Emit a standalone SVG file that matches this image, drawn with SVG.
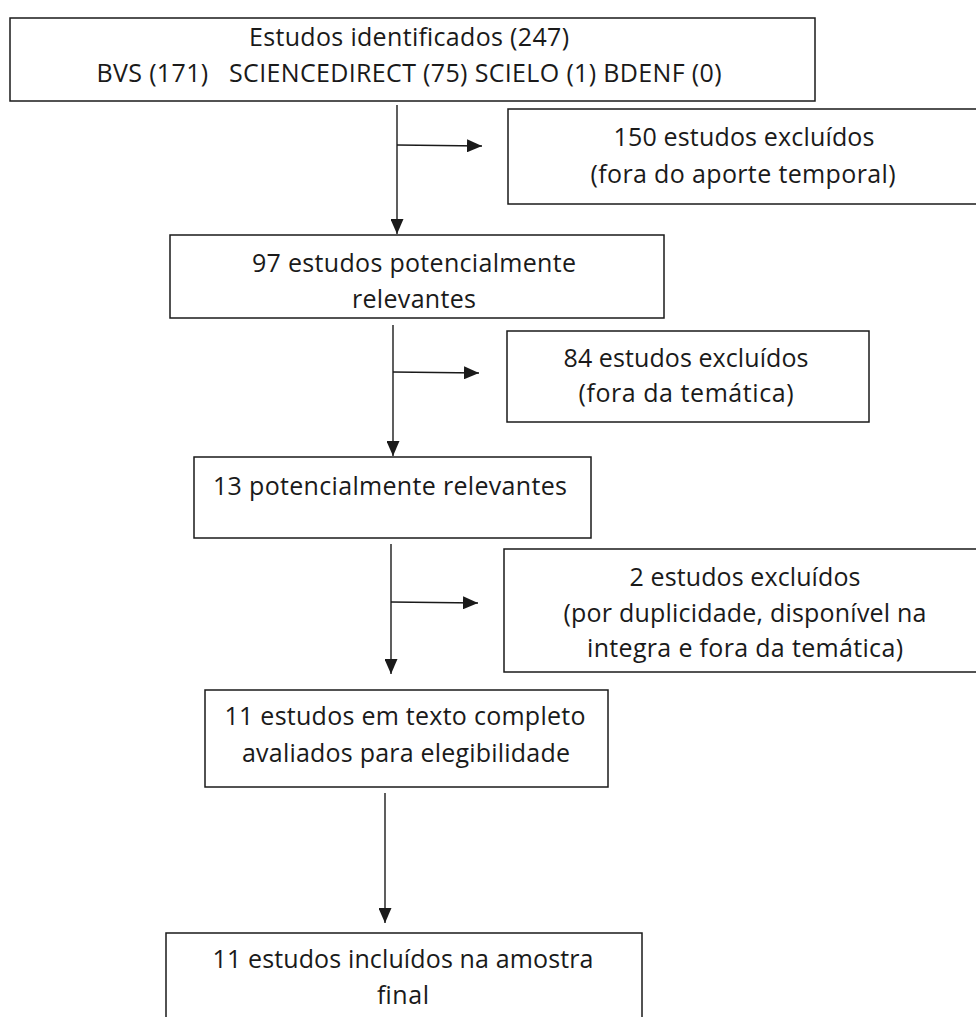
<svg xmlns="http://www.w3.org/2000/svg" width="976" height="1017" viewBox="0 0 976 1017">
<style>
  .box { fill: #ffffff; stroke: #1a1a1a; stroke-width: 1.5; }
  .t { font-family: "Open Sans", "Liberation Sans", sans-serif; font-size: 25px; fill: #1a1a1a; text-anchor: middle; }
  .c { stroke: #1a1a1a; stroke-width: 1.4; fill: none; }
</style>
<defs>
  <marker id="ah" viewBox="0 0 15 13" refX="15" refY="6.5" markerWidth="15" markerHeight="13" markerUnits="userSpaceOnUse" orient="auto">
    <path d="M0,0 L15,6.5 L0,13 Z" fill="#1a1a1a"/>
  </marker>
</defs>
<rect width="976" height="1017" fill="#ffffff"/>

<g id="connectors">
  <line class="c" x1="397" y1="105" x2="397" y2="234" marker-end="url(#ah)"/>
  <line class="c" x1="397" y1="145" x2="482" y2="146" marker-end="url(#ah)"/>
  <line class="c" x1="393" y1="325" x2="393" y2="456" marker-end="url(#ah)"/>
  <line class="c" x1="393" y1="372" x2="479" y2="373" marker-end="url(#ah)"/>
  <line class="c" x1="391" y1="544" x2="391" y2="674" marker-end="url(#ah)"/>
  <line class="c" x1="391" y1="602" x2="478" y2="603" marker-end="url(#ah)"/>
  <line class="c" x1="385" y1="793" x2="385" y2="923" marker-end="url(#ah)"/>
</g>

<g id="n1">
  <rect class="box" x="10" y="18" width="805" height="83"/>
  <text class="t" x="409" y="46" textLength="320">Estudos identificados (247)</text>
  <text class="t" x="409" y="82" textLength="625" xml:space="preserve">BVS (171)   SCIENCEDIRECT (75) SCIELO (1) BDENF (0)</text>
</g>
<g id="n2">
  <rect class="box" x="508" y="109" width="490" height="95"/>
  <text class="t" x="744" y="146" textLength="261">150 estudos excluídos</text>
  <text class="t" x="743" y="183" textLength="305">(fora do aporte temporal)</text>
</g>
<g id="n3">
  <rect class="box" x="170" y="235" width="494" height="83"/>
  <text class="t" x="414" y="272" textLength="324">97 estudos potencialmente</text>
  <text class="t" x="414" y="308" textLength="124">relevantes</text>
</g>
<g id="n4">
  <rect class="box" x="507" y="331" width="362" height="91"/>
  <text class="t" x="686" y="367" textLength="245">84 estudos excluídos</text>
  <text class="t" x="686" y="402" textLength="215">(fora da temática)</text>
</g>
<g id="n5">
  <rect class="box" x="194" y="457" width="397" height="81"/>
  <text class="t" x="390" y="495" textLength="354">13 potencialmente relevantes</text>
</g>
<g id="n6">
  <rect class="box" x="504" y="549" width="485" height="123"/>
  <text class="t" x="745" y="586" textLength="231">2 estudos excluídos</text>
  <text class="t" x="745" y="622" textLength="363">(por duplicidade, disponível na</text>
  <text class="t" x="745" y="657" textLength="316">integra e fora da temática)</text>
</g>
<g id="n7">
  <rect class="box" x="205" y="690" width="403" height="97"/>
  <text class="t" x="405" y="725" textLength="361">11 estudos em texto completo</text>
  <text class="t" x="406" y="762" textLength="328">avaliados para elegibilidade</text>
</g>
<g id="n8">
  <rect class="box" x="166" y="933" width="476" height="100"/>
  <text class="t" x="403" y="968" textLength="381">11 estudos incluídos na amostra</text>
  <text class="t" x="403" y="1004" textLength="52">final</text>
</g>
</svg>
